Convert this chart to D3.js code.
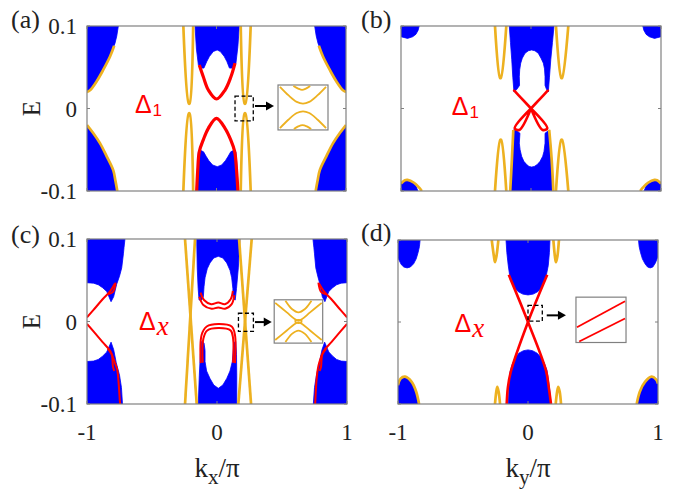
<!DOCTYPE html>
<meta charset="utf-8">
<style>
body { margin: 0; background: #fff; }
svg { font-family: "Liberation Serif", "Times New Roman", Times, serif; }
text { fill: #222; }
</style>
<svg width="689" height="498"></svg>
<script src="https://cdnjs.cloudflare.com/ajax/libs/d3/7.8.5/d3.min.js"></script>
<script>

var BLUE = "#0000ff", ORANGE = "#edb120", RED = "#ff0000", AXIS = "#808080";
var SERIF = "Liberation Serif, Times New Roman, Times, serif";
var SANS = "Liberation Sans, Arial, Helvetica, sans-serif";

var xTicks = [-1, 0, 1], xTickText = ["-1", "0", "1"];
var yTicks = [-0.1, 0, 0.1], yTickText = ["-0.1", "0", "0.1"];

//------------- panel (a): E vs kx, Delta_1 -------------
var aBlue = [
  [[-1,0.1],[-0.758,0.1],[-0.77,0.088],[-0.784,0.079],[-0.822,0.063],[-0.874,0.047],[-0.925,0.033],[-0.977,0.022],[-1,0.02]],
  [[-1,-0.02],[-0.951,-0.03],[-0.9,-0.042],[-0.848,-0.058],[-0.797,-0.075],[-0.78,-0.088],[-0.766,-0.1],[-1,-0.1]],
  [[1,0.1],[0.758,0.1],[0.77,0.088],[0.784,0.079],[0.822,0.063],[0.874,0.047],[0.925,0.033],[0.977,0.022],[1,0.02]],
  [[1,-0.02],[0.951,-0.03],[0.9,-0.042],[0.848,-0.058],[0.797,-0.075],[0.78,-0.088],[0.766,-0.1],[1,-0.1]],
  [[-0.166,0.1],[0.176,0.1],[0.165,0.075],[0.15,0.055],[0.13,0.049],[0.1,0.049],[0.08,0.057],[0.06,0.063],[0.03,0.069],[0.005,0.071],[-0.025,0.069],[-0.055,0.063],[-0.075,0.057],[-0.097,0.049],[-0.12,0.049],[-0.14,0.053],[-0.155,0.072]],
  [[-0.157,-0.1],[0.168,-0.1],[0.16,-0.075],[0.15,-0.0525],[0.13,-0.051],[0.11,-0.0525],[0.09,-0.058],[0.07,-0.063],[0.04,-0.0685],[0.006,-0.0705],[-0.03,-0.0685],[-0.06,-0.063],[-0.08,-0.058],[-0.1,-0.0525],[-0.12,-0.051],[-0.14,-0.0525],[-0.148,-0.075]]
];
var aOrange = [
  [[-0.79,0.076],[-0.822,0.063],[-0.874,0.047],[-0.925,0.033],[-0.977,0.022],[-1,0.02]],
  [[-1,-0.02],[-0.951,-0.03],[-0.9,-0.042],[-0.848,-0.058],[-0.797,-0.075],[-0.78,-0.088],[-0.766,-0.1]],
  [[0.79,0.076],[0.822,0.063],[0.874,0.047],[0.925,0.033],[0.977,0.022],[1,0.02]],
  [[1,-0.02],[0.951,-0.03],[0.9,-0.042],[0.848,-0.058],[0.797,-0.075],[0.78,-0.088],[0.766,-0.1]],
  [[-0.256,0.1],[-0.214,0.006],[-0.208,0.006],[-0.18,0.1]],
  [[-0.256,-0.1],[-0.214,-0.006],[-0.208,-0.006],[-0.18,-0.1]],
  [[0.187,0.1],[0.217,0.006],[0.223,0.006],[0.264,0.1]],
  [[0.187,-0.1],[0.217,-0.006],[0.223,-0.006],[0.264,-0.1]]
];
var aRed = [
  [[-0.133,0.0527],[-0.102,0.0385],[-0.063,0.0224],[0,0.0115],[0.066,0.0224],[0.11,0.0378],[0.143,0.055]],
  [[-0.153,-0.1],[-0.145,-0.075],[-0.133,-0.0524],[-0.102,-0.038],[-0.063,-0.024],[0,-0.0119],[0.066,-0.024],[0.11,-0.038],[0.14,-0.052],[0.155,-0.075],[0.165,-0.1]]
];
var aInset = [
  [[0.3,1],[0.4,0.94],[0.48,0.91],[0.56,0.94],[0.65,1]],
  [[0.02,0.98],[0.2,0.78],[0.37,0.63],[0.5,0.59],[0.63,0.63],[0.8,0.78],[0.98,0.98]],
  [[0.02,0.02],[0.2,0.22],[0.37,0.37],[0.5,0.41],[0.63,0.37],[0.8,0.22],[0.98,0.02]],
  [[0.31,0],[0.4,0.06],[0.49,0.09],[0.58,0.06],[0.67,0]]
];

//------------- panel (b): E vs ky, Delta_1 -------------
var bBlue = [
  [[-1,0.1],[-0.86,0.1],[-0.868,0.095],[-0.885,0.09],[-0.91,0.087],[-0.95,0.085],[-1,0.087]],
  [[1,0.1],[0.86,0.1],[0.868,0.095],[0.885,0.09],[0.91,0.087],[0.95,0.085],[1,0.087]],
  [[-1,-0.1],[-0.87,-0.1],[-0.885,-0.094],[-0.91,-0.09],[-0.94,-0.088],[-0.97,-0.088],[-1,-0.091]],
  [[1,-0.1],[0.87,-0.1],[0.885,-0.094],[0.91,-0.09],[0.94,-0.088],[0.97,-0.088],[1,-0.091]],
  [[-0.167,0.1],[0.177,0.1],[0.165,0.08],[0.152,0.059],[0.142,0.038],[0.133,0.02],[0.12,0.023],[0.108,0.028],[0.108,0.0385],[0.104,0.048],[0.095,0.055],[0.077,0.061],[0.056,0.067],[0.03,0.07],[0.005,0.071],[-0.02,0.07],[-0.046,0.067],[-0.067,0.061],[-0.079,0.055],[-0.087,0.047],[-0.09,0.0385],[-0.088,0.028],[-0.11,0.023],[-0.131,0.02],[-0.14,0.038],[-0.148,0.059],[-0.158,0.08]],
  [[-0.16,-0.1],[0.172,-0.1],[0.165,-0.08],[0.159,-0.062],[0.15,-0.042],[0.14,-0.026],[0.125,-0.028],[0.108,-0.03],[0.108,-0.042],[0.1,-0.052],[0.09,-0.058],[0.07,-0.064],[0.048,-0.068],[0.025,-0.0703],[0.005,-0.071],[-0.015,-0.0703],[-0.033,-0.068],[-0.055,-0.064],[-0.072,-0.058],[-0.084,-0.05],[-0.09,-0.042],[-0.085,-0.03],[-0.11,-0.027],[-0.136,-0.026],[-0.142,-0.042],[-0.147,-0.062],[-0.153,-0.08]]
];
var bOrange = [
  [[-0.277,0.1],[-0.238,0.037],[-0.232,0.037],[-0.19,0.1]],
  [[0.192,0.1],[0.233,0.037],[0.239,0.037],[0.287,0.1]],
  [[-0.277,-0.1],[-0.236,-0.038],[-0.23,-0.038],[-0.19,-0.1]],
  [[0.192,-0.1],[0.233,-0.038],[0.239,-0.038],[0.287,-0.1]],
  [[-0.16,-0.1],[-0.147,-0.062],[-0.136,-0.026]],
  [[0.172,-0.1],[0.159,-0.062],[0.14,-0.026]],
  [[-1,-0.091],[-0.97,-0.087],[-0.95,-0.0865],[-0.9,-0.09],[-0.86,-0.096],[-0.84,-0.1]],
  [[1,-0.091],[0.97,-0.087],[0.95,-0.0865],[0.9,-0.09],[0.86,-0.096],[0.84,-0.1]]
];
var bRed = [
  [[0,0],[-0.13,0.022],[-0.095,0.016],[0,0]],
  [[0,0],[0.13,0.022],[0.095,0.016],[0,0]],
  [[0,0],[-0.125,-0.024],[-0.09,-0.026],[0,0]],
  [[0,0],[0.125,-0.024],[0.09,-0.026],[0,0]]
];

//------------- panel (c): E vs kx, Delta_x -------------
var cBlue = [
  [[-1,0.1],[-0.708,0.1],[-0.715,0.09],[-0.72,0.082],[-0.733,0.065],[-0.75,0.055],[-0.772,0.045],[-0.795,0.03],[-0.815,0.024],[-0.848,0.0364],[-0.88,0.041],[-0.913,0.0445],[-0.95,0.0465],[-1,0.047]],
  [[-1,-0.1],[-0.727,-0.1],[-0.735,-0.08],[-0.75,-0.065],[-0.775,-0.05],[-0.795,-0.034],[-0.815,-0.025],[-0.848,-0.037],[-0.88,-0.042],[-0.913,-0.046],[-0.95,-0.048],[-1,-0.0485]],
  [[1,0.1],[0.738,0.1],[0.745,0.09],[0.75,0.082],[0.76,0.065],[0.775,0.055],[0.792,0.045],[0.81,0.03],[0.83,0.024],[0.86,0.0364],[0.89,0.041],[0.92,0.0445],[0.955,0.0465],[1,0.047]],
  [[1,-0.1],[0.741,-0.1],[0.75,-0.08],[0.765,-0.065],[0.787,-0.05],[0.808,-0.034],[0.828,-0.025],[0.86,-0.037],[0.89,-0.042],[0.92,-0.046],[0.955,-0.048],[1,-0.0485]],
  [[-0.156,0.1],[0.177,0.1],[0.164,0.065],[0.15,0.04],[0.14,0.026],[0.125,0.028],[0.122,0.04],[0.113,0.053],[0.1,0.062],[0.075,0.071],[0.045,0.077],[0.01,0.079],[-0.025,0.077],[-0.054,0.071],[-0.075,0.064],[-0.092,0.053],[-0.1,0.042],[-0.105,0.03],[-0.118,0.026],[-0.138,0.026],[-0.145,0.04],[-0.152,0.065]],
  [[-0.144,-0.1],[0.152,-0.1],[0.152,-0.065],[0.15,-0.04],[0.144,-0.024],[0.128,-0.026],[0.125,-0.035],[0.118,-0.0485],[0.1,-0.06],[0.075,-0.069],[0.045,-0.077],[0.01,-0.081],[-0.025,-0.077],[-0.054,-0.069],[-0.08,-0.06],[-0.092,-0.0485],[-0.092,-0.035],[-0.1,-0.026],[-0.118,-0.024],[-0.128,-0.04],[-0.136,-0.065]]
];
var cOrange = [
  [[-0.246,0.1],[-0.156,-0.1]],
  [[-0.169,0.1],[-0.246,-0.1]],
  [[0.17,0.1],[0.262,-0.1]],
  [[0.267,0.1],[0.164,-0.1]]
];
var cRed = [
  [[-0.136,0.03],[-0.105,0.02],[-0.041,0.0154],[0.01,0.017],[0.062,0.0154],[0.113,0.021],[0.133,0.032]],
  [[-0.127,0.035],[-0.1,0.026],[-0.045,0.021],[0.01,0.023],[0.06,0.021],[0.105,0.027],[0.122,0.037]],
  [[-0.125,-0.0505],[-0.118,-0.016],[-0.079,-0.006],[0.01,-0.003],[0.113,-0.006],[0.138,-0.016],[0.138,-0.0505]],
  [[-0.11,-0.05],[-0.105,-0.021],[-0.075,-0.011],[0.01,-0.008],[0.105,-0.011],[0.124,-0.021],[0.124,-0.05]],
  [[-1,0.005],[-0.95,0.014],[-0.88,0.027],[-0.82,0.037],[-0.785,0.046]],
  [[-0.84,0.033],[-0.8,0.036],[-0.78,0.047]],
  [[-1,-0.003],[-0.95,-0.012],[-0.88,-0.025],[-0.82,-0.036],[-0.79,-0.048],[-0.768,-0.058],[-0.758,-0.072],[-0.747,-0.097],[-0.745,-0.1]],
  [[-0.84,-0.033],[-0.81,-0.04],[-0.8,-0.055],[-0.79,-0.06]],
  [[1,0.005],[0.95,0.014],[0.88,0.027],[0.82,0.037],[0.785,0.046]],
  [[0.84,0.033],[0.8,0.036],[0.78,0.047]],
  [[1,-0.003],[0.95,-0.012],[0.88,-0.025],[0.82,-0.036],[0.79,-0.048],[0.775,-0.058],[0.765,-0.072],[0.756,-0.097],[0.755,-0.1]],
  [[0.84,-0.033],[0.81,-0.04],[0.8,-0.055],[0.79,-0.06]]
];
var cInset = [
  [[0,0.95],[0.25,0.72],[0.42,0.56],[0.5,0.52],[0.58,0.56],[0.75,0.72],[1,0.95]],
  [[0,0.05],[0.25,0.28],[0.42,0.44],[0.5,0.48],[0.58,0.44],[0.75,0.28],[1,0.05]],
  [[0.22,1],[0.36,0.8],[0.5,0.72],[0.64,0.8],[0.78,1]],
  [[0.22,0],[0.36,0.2],[0.5,0.28],[0.64,0.2],[0.78,0]],
  [[0.42,0.5],[0.46,0.47],[0.54,0.47],[0.58,0.5]],
  [[0.42,0.5],[0.46,0.53],[0.54,0.53],[0.58,0.5]]
];

//------------- panel (d): E vs ky, Delta_x -------------
var dBlue = [
  [[-1,0.1],[-0.83,0.1],[-0.835,0.092],[-0.845,0.085],[-0.86,0.077],[-0.88,0.071],[-0.905,0.067],[-0.93,0.066],[-0.955,0.067],[-0.975,0.07],[-1,0.078]],
  [[1,0.1],[0.85,0.1],[0.855,0.092],[0.865,0.085],[0.88,0.077],[0.9,0.071],[0.92,0.067],[0.94,0.066],[0.96,0.067],[0.98,0.072],[1,0.08]],
  [[-1,-0.1],[-0.838,-0.1],[-0.848,-0.092],[-0.86,-0.085],[-0.878,-0.078],[-0.895,-0.073],[-0.92,-0.068],[-0.946,-0.0667],[-0.965,-0.068],[-0.98,-0.07],[-1,-0.077]],
  [[1,-0.1],[0.836,-0.1],[0.846,-0.092],[0.86,-0.085],[0.878,-0.078],[0.9,-0.073],[0.925,-0.068],[0.951,-0.0667],[0.97,-0.068],[0.985,-0.07],[1,-0.075]],
  [[-0.169,0.1],[0.169,0.1],[0.165,0.085],[0.156,0.069],[0.142,0.058],[0.125,0.0485],[0.1,0.041],[0.075,0.037],[0.04,0.034],[0,0.033],[-0.04,0.034],[-0.075,0.037],[-0.1,0.041],[-0.125,0.0485],[-0.142,0.058],[-0.152,0.069],[-0.163,0.085]],
  [[-0.151,-0.1],[0.177,-0.1],[0.165,-0.08],[0.146,-0.059],[0.125,-0.05],[0.105,-0.044],[0.07,-0.038],[0.035,-0.035],[0,-0.034],[-0.035,-0.035],[-0.07,-0.038],[-0.1,-0.044],[-0.12,-0.051],[-0.138,-0.061],[-0.147,-0.08]]
];
var dOrange = [
  [[-0.279,0.1],[-0.262,0.08],[-0.254,0.073],[-0.243,0.08],[-0.228,0.1]],
  [[0.195,0.1],[0.207,0.08],[0.215,0.073],[0.226,0.08],[0.238,0.1]],
  [[-0.254,-0.1],[-0.244,-0.085],[-0.236,-0.079],[-0.226,-0.085],[-0.215,-0.1]],
  [[0.213,-0.1],[0.224,-0.085],[0.233,-0.079],[0.244,-0.085],[0.254,-0.1]],
  [[-1,-0.077],[-0.98,-0.069],[-0.946,-0.0667],[-0.895,-0.073],[-0.86,-0.085],[-0.838,-0.1]],
  [[0.836,-0.1],[0.86,-0.085],[0.9,-0.073],[0.951,-0.0667],[0.985,-0.07],[1,-0.075]]
];
var dRed = [
  [[-0.164,-0.1],[-0.155,-0.08],[-0.133,-0.061],[0,0],[0.148,0.0575]],
  [[0.177,-0.1],[0.16,-0.08],[0.138,-0.059],[0,0],[-0.148,0.0575]]
];
var dInset = [
  [[0,0.33],[1,0.927]],
  [[0.047,0],[1,0.53]]
];

//---------------------------------------------------------------------------------

var svg = d3.select("svg");
svg.append("rect").attr("width", "100%").attr("height", "100%").attr("fill", "#fff");

function makePanel(id, box, blue, orange, red, redWidth) {
  var x = d3.scaleLinear().domain([-1, 1]).range([box[0], box[1]]);
  var y = d3.scaleLinear().domain([-0.1, 0.1]).range([box[3], box[2]]);
  svg.append("clipPath").attr("id", "clip-" + id).append("rect")
     .attr("x", box[0]).attr("y", box[2])
     .attr("width", box[1] - box[0]).attr("height", box[3] - box[2]);
  var g = svg.append("g");
  var inner = g.append("g").attr("clip-path", "url(#clip-" + id + ")");
  var area = d3.line().x(function(d) { return x(d[0]); }).y(function(d) { return y(d[1]); })
               .curve(d3.curveLinearClosed);
  var line = d3.line().x(function(d) { return x(d[0]); }).y(function(d) { return y(d[1]); })
               .curve(d3.curveCatmullRom);
  inner.selectAll(".blue").data(blue).enter().append("path")
       .attr("d", area).attr("fill", BLUE).attr("stroke", BLUE).attr("stroke-width", 0.8)
       .attr("stroke-linejoin", "round");
  inner.selectAll(".orange").data(orange).enter().append("path")
       .attr("d", line).attr("fill", "none").attr("stroke", ORANGE).attr("stroke-width", 2.7)
       .attr("stroke-linejoin", "round");
  inner.selectAll(".red").data(red).enter().append("path")
       .attr("d", line).attr("fill", "none").attr("stroke", RED).attr("stroke-width", redWidth)
       .attr("stroke-linejoin", "round");
  // box + inward ticks
  g.append("rect").attr("x", box[0]).attr("y", box[2])
   .attr("width", box[1] - box[0]).attr("height", box[3] - box[2])
   .attr("fill", "none").attr("stroke", AXIS).attr("stroke-width", 1.2);
  yTicks.forEach(function(t) {
    g.append("line").attr("x1", box[0]).attr("x2", box[0] + 3).attr("y1", y(t)).attr("y2", y(t)).attr("stroke", AXIS);
    g.append("line").attr("x1", box[1]).attr("x2", box[1] - 3).attr("y1", y(t)).attr("y2", y(t)).attr("stroke", AXIS);
  });
  xTicks.forEach(function(t) {
    g.append("line").attr("x1", x(t)).attr("x2", x(t)).attr("y1", box[3]).attr("y2", box[3] - 3).attr("stroke", AXIS);
    g.append("line").attr("x1", x(t)).attr("x2", x(t)).attr("y1", box[2]).attr("y2", box[2] + 3).attr("stroke", AXIS);
  });
  return { x: x, y: y, g: g, box: box };
}

function yLabels(P) {
  yTicks.forEach(function(t, i) {
    P.g.append("text").attr("x", P.box[0] - 10).attr("y", P.y(t) + 8)
       .attr("font-family", SERIF).attr("text-anchor", "end").attr("font-size", "23px").text(yTickText[i]);
  });
  P.g.append("text").attr("transform", "translate(31," + P.y(0) + ") rotate(-90)")
     .attr("font-family", SERIF).attr("text-anchor", "middle").attr("dominant-baseline", "central")
     .attr("font-size", "25px").text("E");
}

function xLabels(P, sub) {
  xTicks.forEach(function(t, i) {
    P.g.append("text").attr("x", P.x(t)).attr("y", P.box[3] + 36)
       .attr("font-family", SERIF).attr("text-anchor", "middle").attr("font-size", "23px").text(xTickText[i]);
  });
  var t = P.g.append("text").attr("x", P.x(0)).attr("y", P.box[3] + 73)
             .attr("font-family", SERIF).attr("text-anchor", "middle").attr("font-size", "27px");
  t.append("tspan").text("k");
  t.append("tspan").attr("font-size", "21px").attr("dy", 7).text(sub);
  t.append("tspan").attr("dy", -7).text("/\u03c0");
}

function panelTag(s, px, py) {
  svg.append("text").attr("x", px).attr("y", py).attr("font-family", SERIF)
     .attr("font-size", "26px").text(s);
}

function deltaLabel(P, kx, ke, sub, italic) {
  var t = P.g.append("text").attr("x", P.x(kx)).attr("y", P.y(ke))
             .attr("font-family", SANS).attr("font-size", "25px").style("fill", RED);
  t.append("tspan").text("\u0394");
  var s = t.append("tspan").attr("dx", 1).attr("dy", italic ? 5 : 3).text(sub);
  if (italic) s.attr("font-family", SERIF).attr("font-style", "italic").attr("font-size", "27px");
  else s.attr("font-size", "17px");
}

function zoomBox(P, x0, x1, e0, e1) {
  P.g.append("rect").attr("x", P.x(x0)).attr("y", P.y(e1))
     .attr("width", P.x(x1) - P.x(x0)).attr("height", P.y(e0) - P.y(e1))
     .attr("fill", "none").attr("stroke", "#000").attr("stroke-width", 1.3)
     .attr("stroke-dasharray", "4,2.5");
}

function arrow(P, x0, x1, e) {
  var yy = P.y(e);
  P.g.append("line").attr("x1", P.x(x0)).attr("x2", P.x(x1) - 6).attr("y1", yy).attr("y2", yy)
     .attr("stroke", "#000").attr("stroke-width", 2);
  P.g.append("path").attr("d", "M" + P.x(x1) + "," + yy + "l-8,-4.5v9z").attr("fill", "#000");
}

function inset(P, x0, x1, e0, e1, data, color) {
  var ix = d3.scaleLinear().domain([0, 1]).range([P.x(x0) + 1, P.x(x1) - 1]);
  var iy = d3.scaleLinear().domain([0, 1]).range([P.y(e0) - 1, P.y(e1) + 1]);
  P.g.append("rect").attr("x", P.x(x0)).attr("y", P.y(e1))
     .attr("width", P.x(x1) - P.x(x0)).attr("height", P.y(e0) - P.y(e1))
     .attr("fill", "#fff").attr("stroke", AXIS).attr("stroke-width", 1.2);
  var line = d3.line().x(function(d) { return ix(d[0]); }).y(function(d) { return iy(d[1]); })
               .curve(d3.curveCatmullRom);
  P.g.selectAll(".ins").data(data).enter().append("path")
     .attr("d", line).attr("fill", "none").attr("stroke", color).attr("stroke-width", 1.8);
}

var A = makePanel("a", [87, 346, 26, 191], aBlue, aOrange, aRed, 3.2);
var B = makePanel("b", [401, 661, 26, 191], bBlue, bOrange, bRed, 2.6);
var C = makePanel("c", [87, 347, 239, 404], cBlue, cOrange, cRed, 2);
var D = makePanel("d", [398, 658, 240, 404], dBlue, dOrange, dRed, 2.6);

yLabels(A); yLabels(C);
xLabels(C, "x"); xLabels(D, "y");

panelTag("(a)", 11, 28);
panelTag("(b)", 361, 28);
panelTag("(c)", 11, 243);
panelTag("(d)", 361, 241);

deltaLabel(A, -0.63, -0.0055, "1", false);
deltaLabel(B, -0.61, -0.008, "1", false);
deltaLabel(C, -0.6, -0.01, "x", true);
deltaLabel(D, -0.565, -0.012, "x", true);

zoomBox(A, 0.143, 0.284, -0.015, 0.015);
arrow(A, 0.297, 0.444, 0.003);
inset(A, 0.475, 0.861, -0.026, 0.0285, aInset, ORANGE);

zoomBox(C, 0.165, 0.28, -0.012, 0.01);
arrow(C, 0.292, 0.421, -0.0007);
inset(C, 0.44, 0.813, -0.0262, 0.0263, cInset, ORANGE);

zoomBox(D, 0, 0.11, 0.001, 0.0203);
arrow(D, 0.144, 0.292, 0.0081);
inset(D, 0.369, 0.754, -0.025, 0.0303, dInset, RED);

</script>
